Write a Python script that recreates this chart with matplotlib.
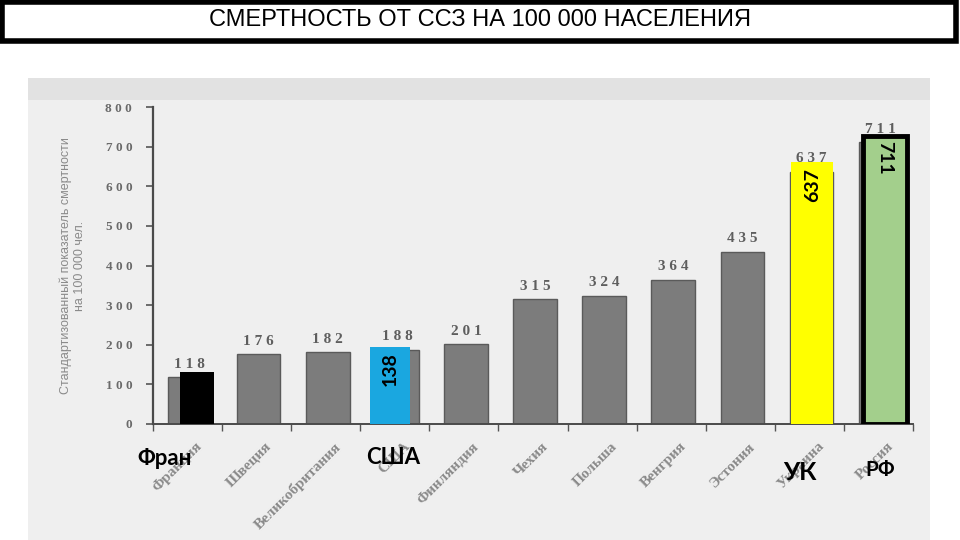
import matplotlib
matplotlib.use("Agg")
import matplotlib.pyplot as plt
from matplotlib.patches import Rectangle

countries = ["Франция", "Швеция", "Великобритания", "США", "Финляндия", "Чехия",
             "Польша", "Венгрия", "Эстония", "Украина", "Россия"]
values = [118, 176, 182, 188, 201, 315, 324, 364, 435, 637, 711]
yticks = [0, 100, 200, 300, 400, 500, 600, 700, 800]

# colored overlay bars drawn on top of the scan
hl_index = [0, 3, 9, 10]
hl_height = [130, 194, 661, 727]
hl_colors = ["#000000", "#1aa7e0", "#ffff00", "#a3cf8c"]
hl_text = ["", "138", "637", "711"]
hl_names = ["Фран", "США", "УК", "РФ"]

fig = plt.figure(figsize=(9.6, 5.4), dpi=100)

# scan background
fig.patches.append(Rectangle((28/960, 0), 902/960, 462/540, transform=fig.transFigure,
                             facecolor="#efefef", edgecolor="none", zorder=-2))
fig.patches.append(Rectangle((28/960, 440/540), 902/960, 22/540, transform=fig.transFigure,
                             facecolor="#e2e2e2", edgecolor="none", zorder=-2))

# title box
fig.patches.append(Rectangle((0.002, 1 - 41/540), 0.994, 39/540, transform=fig.transFigure,
                             facecolor="white", edgecolor="black", linewidth=4, zorder=1))
fig.text(0.5, 1 - 20/540, "СМЕРТНОСТЬ ОТ ССЗ НА 100 000 НАСЕЛЕНИЯ", ha="center", va="center",
         fontsize=17, family="Liberation Sans", color="black", zorder=2)

ax = fig.add_axes([153/960, 116/540, 760/960, 317/540])
ax.set_facecolor("none")
x = list(range(len(values)))
ax.bar([i + 0.03 for i in x], values, width=0.63, color="#7c7c7c", edgecolor="#5a5a5a",
       linewidth=1, zorder=2)
for i, v in zip(x, values):
    ax.text(i + 0.03, v + 16, " ".join(str(v)), ha="center", va="bottom",
            fontsize=11, family="Liberation Serif", fontweight="bold", color="#5e5e5e", zorder=2)

ax.set_xlim(-0.5, 10.5)
ax.set_ylim(0, 800)
ax.set_yticks(yticks)
ax.set_yticklabels([" ".join(str(t)) for t in yticks], family="Liberation Serif",
                   fontweight="bold", color="#6a6a6a", fontsize=9.5)
ax.set_xticks([i - 0.5 for i in range(len(values) + 1)])
ax.set_xticklabels([])
ax.tick_params(axis="y", direction="out", length=5, width=1.2, color="#555555", pad=10)
ax.tick_params(axis="x", direction="out", length=5, width=1.0, color="#555555")
for s in ["top", "right"]:
    ax.spines[s].set_visible(False)
ax.spines["left"].set_color("#4a4a4a")
ax.spines["left"].set_linewidth(1.6)
ax.spines["bottom"].set_color("#4a4a4a")
ax.spines["bottom"].set_linewidth(1.4)

for i, name in zip(x, countries):
    ax.text(i + 0.12, -40, name, rotation=45, ha="right", va="top", rotation_mode="anchor",
            fontsize=11, family="Liberation Serif", fontweight="bold", color="#8a8a8a")

ax.text(-1.66, 400, "Стандартизованный показатель смертности\nна 100 000 чел.", rotation=90,
        ha="center", va="center", fontsize=9, color="#8a8a8a", family="Liberation Sans",
        linespacing=1.25)

# overlays
offsets = [0.14, -0.07, 0.04, 0.09]
widths = [0.5, 0.58, 0.6, 0.64]
for k, (i, h, c, t) in enumerate(zip(hl_index, hl_height, hl_colors, hl_text)):
    ec = "black" if k == 3 else "none"
    ax.bar(i + offsets[k], h, width=widths[k], color=c, edgecolor=ec,
           linewidth=3.5 if k == 3 else 0, zorder=3)
    if t:
        rot = 270 if k == 3 else 90
        ax.text(i + offsets[k], h - 14, t, rotation=rot, ha="center", va="top",
                fontsize=14, family="Lato", fontweight="bold", color="black", zorder=4)

name_pos = [(-0.33, -87, 16), (2.97, -85, 16), (8.87, -122, 18), (10.02, -117, 15)]
for (px, py, fs), nm in zip(name_pos, hl_names):
    ax.text(px, py, nm, ha="center", va="center", fontsize=fs, family="Lato",
            fontweight="bold", color="black", zorder=5)

fig.savefig("out.png", dpi=100)
